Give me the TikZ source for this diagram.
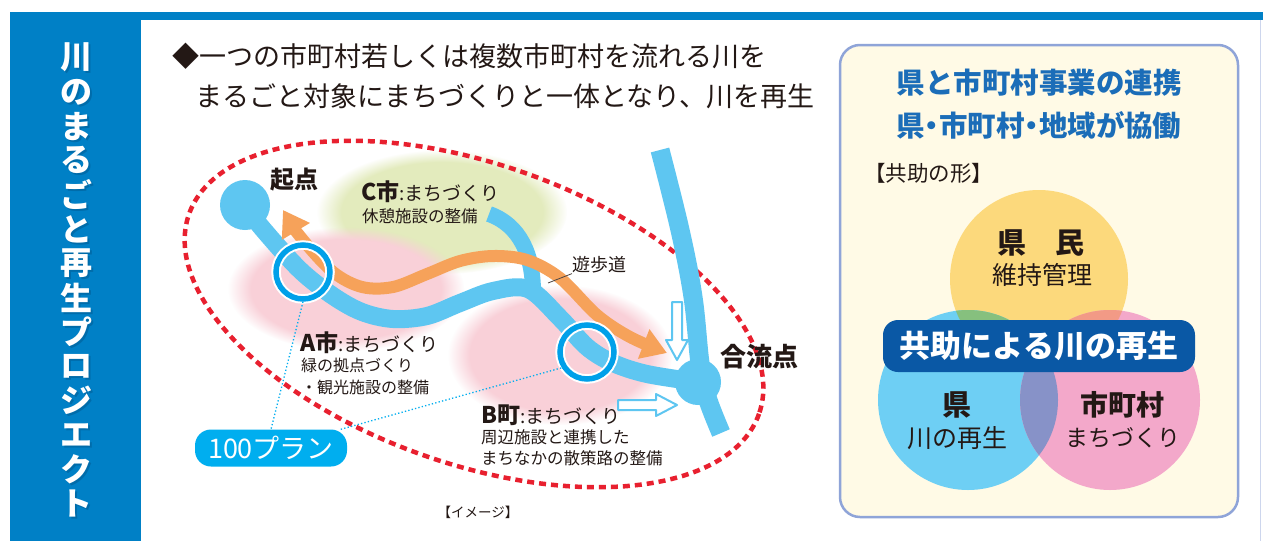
\documentclass[tikz,border=0pt]{standalone}
\usepackage{fontspec}
\setmainfont{Noto Sans CJK JP}
\newfontfamily\paltfont{Noto Sans CJK JP}[RawFeature=+palt]
\usetikzlibrary{arrows.meta,fadings}

\newcommand{\setfs}[1]{\fontsize{#1}{#1}\selectfont}

\definecolor{bandblue}{HTML}{0080C6}
\definecolor{shadowblue}{HTML}{00558A}
\definecolor{ink}{HTML}{231815}
\definecolor{river}{HTML}{5EC6F1}
\definecolor{ringblue}{HTML}{00A0E9}
\definecolor{walk}{HTML}{F6A25A}
\definecolor{routered}{HTML}{E8202F}
\definecolor{pillblue}{HTML}{00AEEF}
\definecolor{blobpink}{HTML}{F9D0D8}
\definecolor{blobgreen}{HTML}{E3EBBD}
\definecolor{panelfill}{HTML}{FFFAE6}
\definecolor{panelline}{HTML}{8FA4D8}
\definecolor{titleblue}{HTML}{1B6DB8}
\definecolor{bannerblue}{HTML}{0A58A5}
\definecolor{cyel}{HTML}{FCD97C}
\definecolor{cblue}{HTML}{6ECFF4}
\definecolor{cpink}{HTML}{F3A8CA}
\definecolor{cyb}{HTML}{86C07E}
\definecolor{cyp}{HTML}{F29A86}
\definecolor{cbp}{HTML}{8792C8}

\begin{document}
\begin{tikzpicture}[x=1pt,y=-1pt,
  lab/.style={inner sep=0pt, text=ink},
  titlechar/.style={inner sep=0pt, text=white, font=\setfs{32}\bfseries},
  riverline/.style={draw=river, line width=18pt, line cap=butt},
  walkline/.style={draw=walk, line width=12pt},
  ring/.style={circle, minimum size=54pt, inner sep=0pt, draw=ringblue, line width=5.5pt,
    preaction={draw=white, line width=9.5pt}},
  hollow/.style={fill=white, draw=river, line width=2pt, line join=round},
  dotline/.style={draw=pillblue, line width=1.3pt, dash pattern=on 1.3pt off 2.2pt},
  pill/.style={fill=pillblue, text=white, rounded corners=16pt, minimum width=152pt,
    minimum height=37pt, inner sep=0pt, font=\setfs{27}},
  banner/.style={fill=bannerblue, text=white, rounded corners=15pt, minimum width=312pt,
    minimum height=52pt, inner sep=0pt, font=\setfs{31}\bfseries},
]
\useasboundingbox (0,0) rectangle (1263,541);
\fill[white] (0,0) rectangle (1263,541);

% frame: top band, left column, right rule
\fill[bandblue] (10,12) rectangle (1263,19.5);
\fill[bandblue] (10,12) rectangle (141,541);
\draw[panelline!45, line width=1pt] (1260.5,19.5) -- (1260.5,541);

% vertical project title, white letters over a soft dark offset
\foreach \ch [count=\i from 0] in {川,の,ま,る,ご,と,再,生,プ,ロ,ジ,エ,ク,ト}{
  \node[titlechar, text=shadowblue, opacity=0.45] at (78,59.5+34.3*\i) {\ch};
  \node[titlechar] (title\i) at (76,57.5+34.3*\i) {\ch};
}

% heading
\node[lab, anchor=west, font=\setfs{27}] (head1) at (172,56) {◆一つの市町村若しくは複数市町村を流れる川を};
\node[lab, anchor=west, font=\setfs{27}] (head2) at (195,96) {まるごと対象にまちづくりと一体となり、川を再生};

% soft background areas
\fill[blobgreen, path fading=circle with fuzzy edge 20 percent] (442,212) ellipse [x radius=125, y radius=62];
\fill[blobpink, path fading=circle with fuzzy edge 20 percent] (346,289) ellipse [x radius=118, y radius=62];
\fill[blobpink, path fading=circle with fuzzy edge 20 percent] (560,355) ellipse [x radius=112, y radius=70];

% planning area
\draw[routered, line width=4.5pt, dash pattern=on 7pt off 5pt, rotate around={-19.3:(474,314)}]
  (474,314) ellipse [x radius=302, y radius=150];

% rivers
\draw[riverline, line width=19pt] plot[smooth, tension=0.6] coordinates
  {(660,150) (680,230) (693,297) (700,363) (707,397) (721,433)};
\draw[riverline, line width=16pt] (489,214) .. controls (520,225) and (533,255) .. (533,292);
\draw[riverline] plot[smooth, tension=0.55] coordinates
  {(245,205) (262,228) (300,270) (333,296) (362,312) (393,319) (427,316) (460,303)
   (493,291) (528,289) (560,318) (587,347) (613,363) (647,374) (698,382)};
\node[circle, fill=river, minimum size=50pt, inner sep=0pt] (source) at (245,205) {};
\node[circle, fill=river, minimum size=46pt, inner sep=0pt] (junction) at (698,382) {};

% promenade
\draw[walkline, {Triangle[width=31pt,length=25pt]}-{Triangle[width=30pt,length=25pt]}]
  plot[smooth, tension=0.55] coordinates
  {(283,210) (303,240) (333,272) (362,287) (393,287) (427,274) (460,261) (493,256)
   (527,260) (560,278) (597,315) (630,337) (667,353)};

% plan sites
\node[ring] (ringA) at (303,272) {};
\node[ring] (ringB) at (587,352) {};

% inflow arrows
\draw[hollow] (672,302) -- (682,302) -- (682,340) -- (688,340) -- (677,360) -- (666,340) -- (672,340) -- cycle;
\draw[hollow] (618,400) -- (656,400) -- (656,394) -- (677,405) -- (656,416) -- (656,410) -- (618,410) -- cycle;

% map labels
\node[lab, font=\setfs{24}\bfseries] (kiten) at (294,180) {起点};
\node[lab, anchor=west] (cname) at (361,192) {{\setfs{23}\bfseries C市}{\setfs{19}:まちづくり}};
\node[lab, anchor=west, font=\setfs{16.5}] (cdesc) at (362,216) {休憩施設の整備};
\node[lab, anchor=west, font=\setfs{18}] (yuho) at (572,265) {遊歩道};
\coordinate (walkpt) at (548,283);
\draw[ink!80, line width=0.8pt] (yuho.south west) -- (walkpt);
\node[lab, anchor=west] (aname) at (300,343) {{\setfs{23}\bfseries A市}{\setfs{19}:まちづくり}};
\node[lab, anchor=west, font=\setfs{16}] (adesc1) at (301,365) {緑の拠点づくり};
\node[lab, anchor=west, font=\setfs{16}] (adesc2) at (301,387) {・観光施設の整備};
\node[lab, font=\setfs{26}\bfseries] (goryu) at (759,357) {合流点};
\node[lab, anchor=west] (bname) at (481,415) {{\setfs{23}\bfseries B町}{\setfs{19}:まちづくり}};
\node[lab, anchor=west, font=\setfs{16.5}] (bdesc1) at (481,437) {周辺施設と連携した};
\node[lab, anchor=west, font=\setfs{16.5}] (bdesc2) at (481,458) {まちなかの散策路の整備};

% 100-plan callout
\node[pill] (pill) at (271,448) {100プラン};
\draw[dotline] (ringA.south) -- (pill.north);
\draw[dotline] (pill.15) -- (ringB.212);
\node[lab, font=\setfs{13.5}] (imgnote) at (478,512) {【イメージ】};

% right panel
\draw[panelline, fill=panelfill, line width=2.5pt, rounded corners=20pt] (840,45) rectangle (1238,517);
\node[inner sep=0pt, text=titleblue, font=\setfs{28.5}\bfseries] (pt1) at (1039,83) {県と市町村事業の連携};
\node[inner sep=0pt, text=titleblue, font=\paltfont\setfs{28.5}\bfseries] (pt2) at (1039,125) {県・市町村・地域が協働};
\node[lab, anchor=west, font=\setfs{21.5}] (kyojo) at (864,173) {【共助の形】};

% cooperation circles
\fill[cyel] (1039,279) circle (89);
\fill[cblue] (968,400) circle (90);
\fill[cpink] (1110,400) circle (90);
\begin{scope}
  \clip (1039,279) circle (89);
  \fill[cyb] (968,400) circle (90);
  \fill[cyp] (1110,400) circle (90);
\end{scope}
\begin{scope}
  \clip (968,400) circle (90);
  \fill[cbp] (1110,400) circle (90);
\end{scope}

\node[lab, font=\setfs{29}\bfseries] (kenmin) at (1041,243) {県　民};
\node[lab, font=\setfs{25}] (kenmind) at (1042,275) {維持管理};
\node[banner] (banner) at (1039,346) {共助による川の再生};
\node[lab, font=\setfs{29}\bfseries] (ken) at (957,405) {県};
\node[lab, font=\setfs{25}] (kend) at (957,438) {川の再生};
\node[lab, font=\setfs{28}\bfseries] (shi) at (1122,405) {市町村};
\node[lab, font=\setfs{23}] (shid) at (1123,438) {まちづくり};
\end{tikzpicture}
\end{document}
